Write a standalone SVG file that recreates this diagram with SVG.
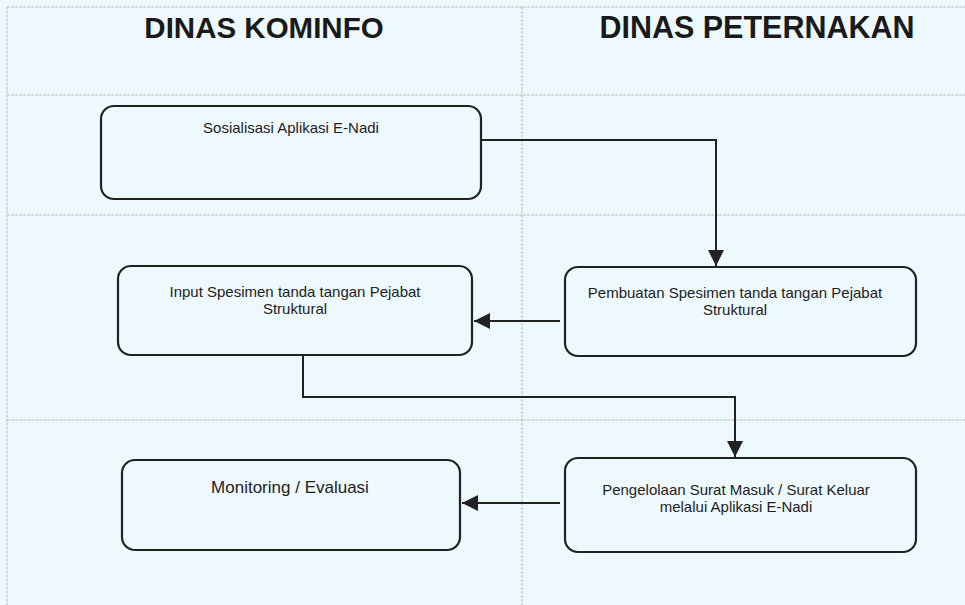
<svg xmlns="http://www.w3.org/2000/svg" width="965" height="605" viewBox="0 0 965 605">
<defs>
<style>
.grid{stroke:#b4bcc4;stroke-width:1;stroke-dasharray:3 1;fill:none}
.box{fill:none;stroke:#222;stroke-width:2.2}
.t{font-family:"Liberation Sans",Arial,sans-serif;font-size:15px;fill:#222;text-anchor:middle}
.title{font-family:"Liberation Sans",Arial,sans-serif;font-size:29.5px;font-weight:bold;fill:#1a1a1a;text-anchor:middle}
.conn{fill:none;stroke:#222;stroke-width:2}
</style>
<marker id="arr" viewBox="0 0 10 10" refX="10" refY="5" markerWidth="8" markerHeight="8" markerUnits="strokeWidth" orient="auto">
<path d="M0,0 L10,5 L0,10 Z" fill="#222"/>
</marker>
</defs>
<rect x="0" y="0" width="965" height="605" fill="#eef9fd"/>
<g id="grid">
<line class="grid" x1="7" y1="7" x2="965" y2="7"/>
<line class="grid" x1="7" y1="7" x2="7" y2="605"/>
<line class="grid" x1="522" y1="7" x2="522" y2="605"/>
<line class="grid" x1="7" y1="95" x2="965" y2="95"/>
<line class="grid" x1="7" y1="215" x2="965" y2="215"/>
<line class="grid" x1="7" y1="420" x2="965" y2="420"/>
</g>
<g id="titles">
<text class="title" x="264" y="38">DINAS KOMINFO</text>
<text class="title" x="757" y="38" style="font-size:30.5px">DINAS PETERNAKAN</text>
</g>
<g id="connectors">
<path class="conn" d="M481,140 H716 V266" marker-end="url(#arr)"/>
<path class="conn" d="M560,321 H474" marker-end="url(#arr)"/>
<path class="conn" d="M303,355 V397 H735 V457" marker-end="url(#arr)"/>
<path class="conn" d="M560,503 H462" marker-end="url(#arr)"/>
</g>
<g id="n1">
<rect class="box" x="101" y="106" width="380" height="93" rx="13"/>
<text class="t" x="291" y="133">Sosialisasi Aplikasi E-Nadi</text>
</g>
<g id="n2">
<rect class="box" x="118" y="266" width="354" height="89" rx="13"/>
<text class="t" x="295" y="297">Input Spesimen tanda tangan Pejabat</text>
<text class="t" x="295" y="314">Struktural</text>
</g>
<g id="n3">
<rect class="box" x="565" y="267" width="351" height="89" rx="13"/>
<text class="t" x="735" y="298">Pembuatan Spesimen tanda tangan Pejabat</text>
<text class="t" x="735" y="315">Struktural</text>
</g>
<g id="n4">
<rect class="box" x="122" y="460" width="338" height="90" rx="13"/>
<text class="t" x="290" y="493" style="font-size:17px">Monitoring / Evaluasi</text>
</g>
<g id="n5">
<rect class="box" x="565" y="458" width="351" height="94" rx="13"/>
<text class="t" x="736" y="495">Pengelolaan Surat Masuk / Surat Keluar</text>
<text class="t" x="736" y="512">melalui Aplikasi E-Nadi</text>
</g>
</svg>
